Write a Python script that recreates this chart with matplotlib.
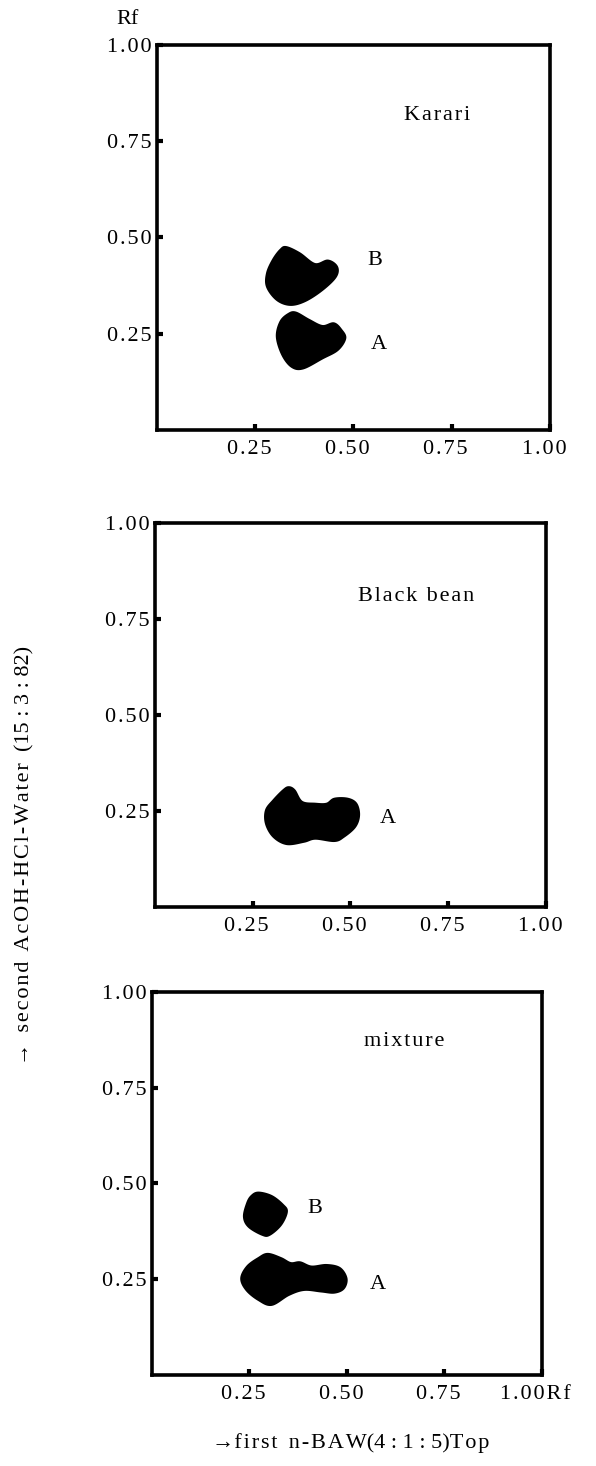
import matplotlib
matplotlib.use('Agg')
from matplotlib import pyplot as plt
from matplotlib.transforms import ScaledTranslation
import numpy as np

# Two-dimensional paper chromatograms of the anthocyanin spots (Rf values)
# Each spot is kept as its outline in Rf units.

ticks = [0.25, 0.50, 0.75, 1.00]
tick_labels = ['0.25', '0.50', '0.75', '1.00']
last_x_label = '1.00Rf'

# Karari
karari_B_x = [0.329, 0.363, 0.402, 0.435, 0.458, 0.455, 0.421, 0.377, 0.339, 0.305, 0.280, 0.280, 0.295, 0.314]
karari_B_y = [0.475, 0.459, 0.431, 0.440, 0.424, 0.398, 0.364, 0.335, 0.325, 0.338, 0.372, 0.407, 0.442, 0.468]
karari_A_x = [0.353, 0.387, 0.421, 0.450, 0.469, 0.479, 0.460, 0.421, 0.372, 0.343, 0.319, 0.305, 0.314, 0.334]
karari_A_y = [0.305, 0.286, 0.270, 0.277, 0.260, 0.238, 0.208, 0.186, 0.160, 0.164, 0.195, 0.242, 0.281, 0.301]

# Black bean
black_A_x = [0.342, 0.357, 0.376, 0.410, 0.439, 0.459, 0.493, 0.515, 0.522, 0.512,
             0.483, 0.459, 0.410, 0.381, 0.337, 0.303, 0.284, 0.284, 0.303, 0.328]
black_A_y = [0.312, 0.304, 0.274, 0.269, 0.269, 0.282, 0.282, 0.269, 0.239, 0.209,
             0.183, 0.172, 0.178, 0.170, 0.164, 0.183, 0.217, 0.252, 0.278, 0.304]

# mixture
mix_B_x = [0.273, 0.307, 0.336, 0.346, 0.331, 0.302, 0.283, 0.248, 0.236, 0.244, 0.255]
mix_B_y = [0.476, 0.467, 0.444, 0.426, 0.392, 0.366, 0.366, 0.387, 0.413, 0.448, 0.467]
mix_A_x = [0.297, 0.331, 0.356, 0.380, 0.409, 0.448, 0.482, 0.499, 0.492, 0.468,
           0.434, 0.390, 0.351, 0.307, 0.273, 0.242, 0.229, 0.244, 0.273]
mix_A_y = [0.316, 0.305, 0.292, 0.294, 0.283, 0.287, 0.279, 0.252, 0.226, 0.215,
           0.218, 0.222, 0.209, 0.183, 0.196, 0.222, 0.252, 0.283, 0.305]

panels = [
    {'name': 'Karari', 'name_xy': (0.714, 0.816),
     'spots': [(karari_B_x, karari_B_y, 'B', (0.555, 0.439)),
               (karari_A_x, karari_A_y, 'A', (0.564, 0.223))]},
    {'name': 'Black bean', 'name_xy': (0.668, 0.808),
     'spots': [(black_A_x, black_A_y, 'A', (0.595, 0.230))]},
    {'name': 'mixture', 'name_xy': (0.648, 0.870),
     'spots': [(mix_B_x, mix_B_y, 'B', (0.417, 0.435)),
               (mix_A_x, mix_A_y, 'A', (0.580, 0.237))]},
]

# axes boxes in figure fractions
boxes = [
    [0.2634, 0.7067, 0.6594, 0.2626],
    [0.2600, 0.3813, 0.6560, 0.2619],
    [0.2550, 0.0621, 0.6540, 0.2613],
]

HAIR = '\u200a'


def spaced(s):
    # the printed figure uses wide letter spacing
    return HAIR.join(s)


def smooth_outline(x, y, n=12):
    # closed Catmull-Rom curve through the outline points, only for drawing
    p = np.column_stack([x, y])
    m = len(p)
    t = np.linspace(0, 1, n, endpoint=False)[:, None]
    out = []
    for k in range(m):
        p0, p1, p2, p3 = p[k - 1], p[k], p[(k + 1) % m], p[(k + 2) % m]
        out.append(0.5 * (2 * p1 + (-p0 + p2) * t + (2 * p0 - 5 * p1 + 4 * p2 - p3) * t ** 2
                          + (-p0 + 3 * p1 - 3 * p2 + p3) * t ** 3))
    out = np.vstack(out)
    return out[:, 0], out[:, 1]


plt.rcParams['font.family'] = ['Liberation Serif', 'DejaVu Serif']

fig = plt.figure(figsize=(5.96, 14.66), dpi=100)
shift = ScaledTranslation(-6 / 100, 0, fig.dpi_scale_trans)

for i, (p, box) in enumerate(zip(panels, boxes)):
    ax = fig.add_axes(box)
    ax.set_xlim(0, 1)
    ax.set_ylim(0, 1)
    for s in ax.spines.values():
        s.set_linewidth(2.6)
    ax.set_xticks(ticks)
    ax.set_yticks(ticks)
    xl = list(tick_labels)
    if i == 2:
        xl[-1] = last_x_label
    ax.set_xticklabels([spaced(t) for t in xl])
    ax.set_yticklabels([spaced(t) for t in tick_labels])
    ax.tick_params(direction='in', length=4, width=3, labelsize=16, pad=7)
    ax.tick_params(axis='y', pad=4)
    for lab in ax.get_xticklabels():
        lab.set_transform(lab.get_transform() + shift)

    for sx, sy, letter, lxy in p['spots']:
        cx, cy = smooth_outline(sx, sy)
        ax.fill(cx, cy, facecolor='black', edgecolor='black', linewidth=1.5, joinstyle='round')
        ax.text(lxy[0], lxy[1], letter, fontsize=16, ha='center', va='center')
    ax.text(p['name_xy'][0], p['name_xy'][1], spaced(p['name']), fontsize=16,
            ha='center', va='center')

    if i == 0:
        ax.text(-0.074, 1.065, 'Rf', fontsize=16, ha='center', va='center',
                transform=ax.transAxes)

fig.text(25 / 596, 1 - 855 / 1466,
         '\u2192  ' + spaced('second') + '  ' + spaced('AcOH-HCl-Water') + '  (15 : 3 : 82)',
         rotation=90, fontsize=16, ha='center', va='center')
fig.text(351 / 596, 1 - 1443 / 1466,
         '\u2192' + spaced('first') + '  ' + spaced('n-BAW') + '(4 : 1 : 5)' + spaced('Top'),
         fontsize=16, ha='center', va='center')

fig.savefig('out.png', dpi=100, facecolor='white')
